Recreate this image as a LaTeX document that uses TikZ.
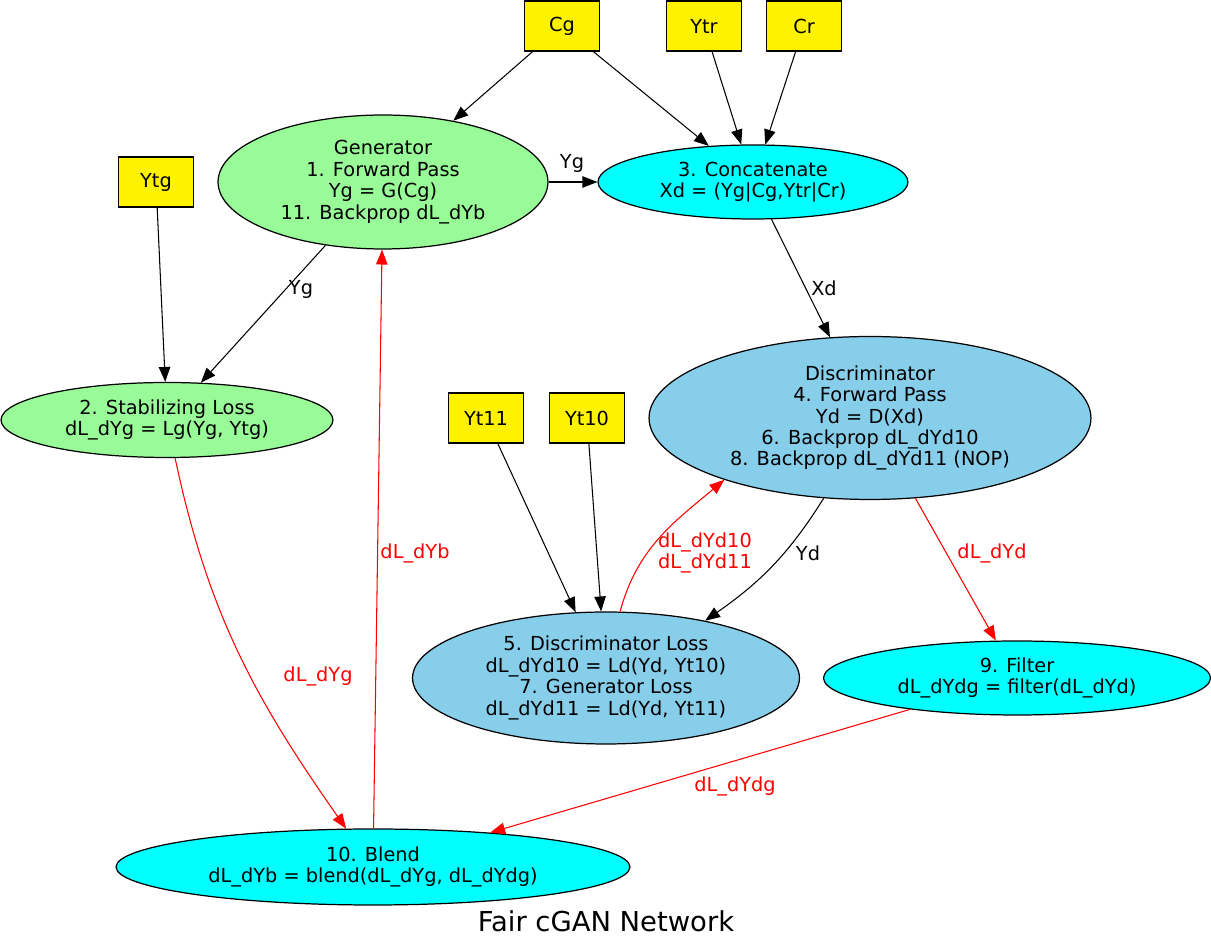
\documentclass[tikz,border=0pt]{standalone}
\usepackage{fontspec}
\setmainfont{DejaVu Sans}
\usetikzlibrary{arrows.meta,shapes.geometric}
\definecolor{palegreen}{HTML}{98FB98}
\definecolor{skyblue}{HTML}{87CEEB}
\definecolor{aqua}{HTML}{00FFFF}

\begin{document}
\begin{tikzpicture}[x=0.02cm,y=0.02cm,
    font=\fontsize{11}{12.2}\selectfont,
    inbox/.style={draw,line width=0.7pt,fill=yellow,minimum width=1.5cm,minimum height=1cm,inner sep=0pt},
    oval/.style={draw,line width=0.7pt,ellipse,align=center,inner sep=0pt},
    flow/.style={-{Triangle[length=8.5pt,width=6.5pt]},line width=0.6pt},
    grad/.style={flow,red},
    glabel/.style={red,align=center}]

    \useasboundingbox (0,0) rectangle (1211,950);

    % inputs
    \node[inbox] (cg) at (562,924) {Cg};
    \node[inbox] (ytr) at (704,924) {Ytr};
    \node[inbox] (cr) at (804,924) {Cr};
    \node[inbox] (ytg) at (156,768) {Ytg};
    \node[inbox] (yt11) at (486,532) {Yt11};
    \node[inbox] (yt10) at (587,532) {Yt10};

    % stages
    \node[oval,fill=palegreen,minimum width=6.6cm,minimum height=2.68cm] (gen) at (383,768)
        {Generator\\1. Forward Pass\\Yg = G(Cg)\\11. Backprop dL\_dYb};
    \node[oval,fill=aqua,minimum width=6.2cm,minimum height=1.48cm] (concat) at (753,768)
        {3. Concatenate\\Xd = (Yg|Cg,Ytr|Cr)};
    \node[oval,fill=palegreen,minimum width=6.64cm,minimum height=1.5cm] (stab) at (167,530)
        {2. Stabilizing Loss\\dL\_dYg = Lg(Yg, Ytg)};
    \node[oval,fill=skyblue,minimum width=8.84cm,minimum height=3.26cm] (disc) at (870,532)
        {Discriminator\\4. Forward Pass\\Yd = D(Xd)\\6. Backprop dL\_dYd10\\8. Backprop dL\_dYd11 (NOP)};
    \node[oval,fill=skyblue,minimum width=7.74cm,minimum height=2.64cm] (dloss) at (606,272)
        {5. Discriminator Loss\\dL\_dYd10 = Ld(Yd, Yt10)\\7. Generator Loss\\dL\_dYd11 = Ld(Yd, Yt11)};
    \node[oval,fill=aqua,minimum width=7.74cm,minimum height=1.48cm] (filter) at (1017,272)
        {9. Filter\\dL\_dYdg = filter(dL\_dYd)};
    \node[oval,fill=aqua,minimum width=10.28cm,minimum height=1.52cm] (blend) at (373,83)
        {10. Blend\\dL\_dYb = blend(dL\_dYg, dL\_dYdg)};

    % forward edges
    \draw[flow] (cg) -- (gen);
    \draw[flow] (cg) -- (concat);
    \draw[flow] (ytr) -- (concat);
    \draw[flow] (cr) -- (concat);
    \draw[flow] (gen) -- (concat);
    \draw[flow] (gen) -- (stab);
    \draw[flow] (ytg) -- (stab);
    \draw[flow] (concat) -- (disc);
    \draw[flow] (yt11) -- (dloss);
    \draw[flow] (yt10) -- (dloss);
    \draw[flow] (disc.240) to[out=238,in=35] (dloss.30);

    % backward edges
    \draw[grad] (stab) to[out=-78,in=125] (blend);
    \draw[grad] (blend) -- (gen);
    \draw[grad] (dloss.78) to[out=75,in=220] (disc.203);
    \draw[grad] (disc) -- (filter);
    \draw[grad] (filter) -- (blend);

    % edge labels
    \node (lyg1) at (572,787) {Yg};
    \node (lyg2) at (301,661) {Yg};
    \node (lxd) at (824,662) {Xd};
    \node (lyd) at (808,397) {Yd};
    \node[glabel] (ldyg) at (318,274) {dL\_dYg};
    \node[glabel] (ldyb) at (415,397) {dL\_dYb};
    \node[glabel] (ldyd1011) at (705,397) {dL\_dYd10\\dL\_dYd11};
    \node[glabel] (ldyd) at (992,397) {dL\_dYd};
    \node[glabel] (ldydg) at (735,164) {dL\_dYdg};

    % title
    \node[font=\fontsize{15.6}{18}\selectfont] (title) at (606,29) {Fair cGAN Network};

\end{tikzpicture}
\end{document}
